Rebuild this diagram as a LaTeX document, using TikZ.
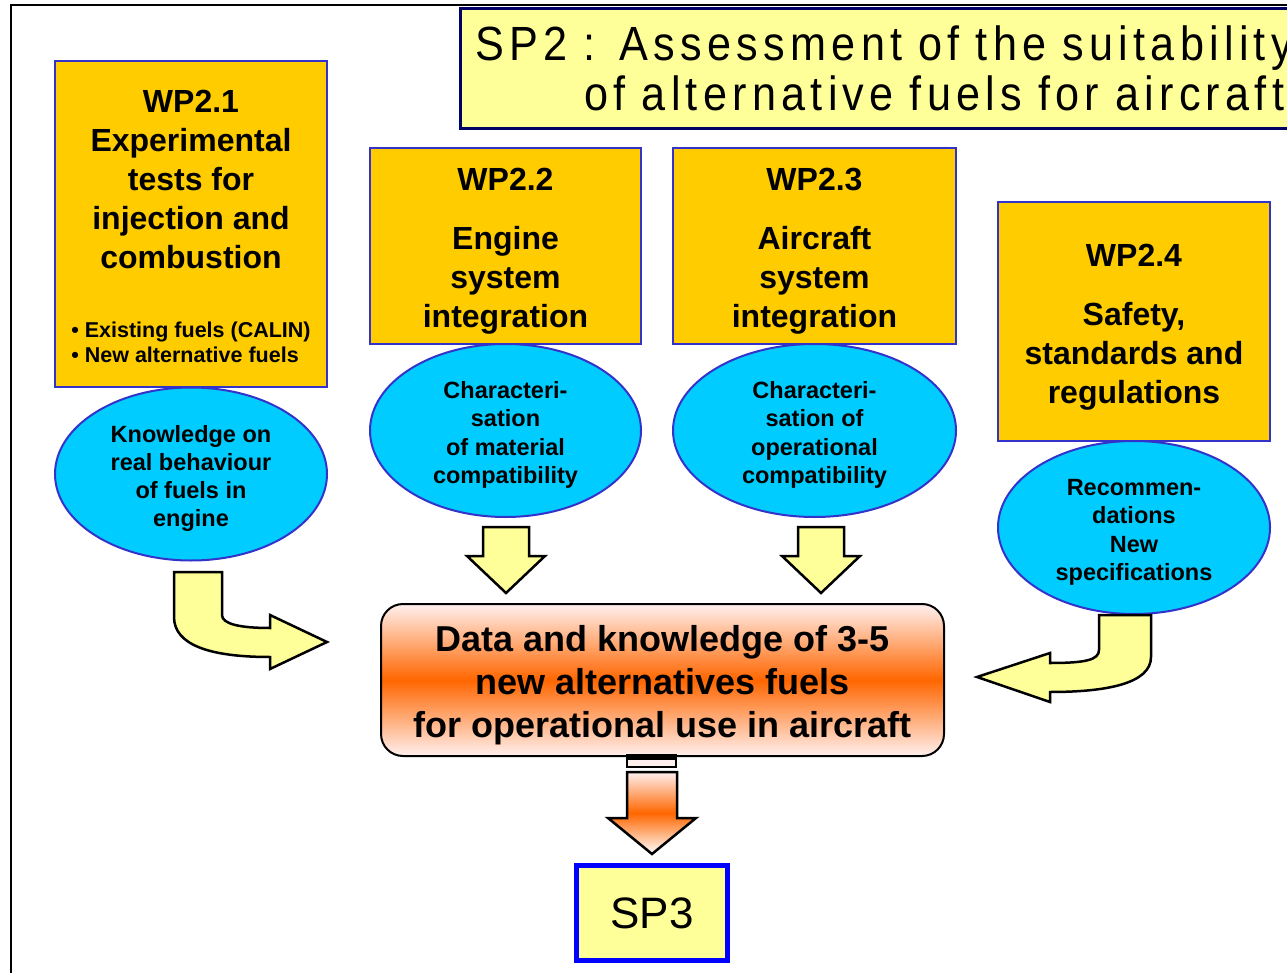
\documentclass[tikz,border=0pt]{standalone}
\usepackage{fontspec}
\setmainfont{Liberation Sans}
\newfontfamily\titlefont[FakeStretch=0.9,LetterSpace=11]{Liberation Sans} % SP2 heading.
\newcommand{\topstrut}[1]{\rule{0pt}{#1}} % Pushes a text block down a little.
\usetikzlibrary{shapes.geometric}
\definecolor{wpgold}{HTML}{FFCC00}
\definecolor{wpblue}{HTML}{3333CC}
\definecolor{resblue}{HTML}{00CCFF}
\definecolor{paleyellow}{HTML}{FFFF99}
\definecolor{titlenavy}{HTML}{000066}
\definecolor{dataorange}{HTML}{FF6600}
\definecolor{datapink}{HTML}{FFF0EE}
\definecolor{spblue}{HTML}{0000FF}

\begin{document}
\begin{tikzpicture}[x=1pt, y=-1pt,
  wpbox/.style={draw=wpblue, line width=2, fill=wpgold, align=center, inner sep=0,
    font=\bfseries\fontsize{32}{39}\selectfont},
  resnode/.style={ellipse, draw=wpblue, line width=2, fill=resblue, align=center,
    inner sep=0, minimum height=173, font=\bfseries\fontsize{23.5}{28.3}\selectfont},
  blockarr/.style={draw=black, line width=2.5, fill=paleyellow}]
\useasboundingbox (0,0) rectangle (1287,973);
\clip (0,0) rectangle (1287,973);
\draw[line width=2] (11,990) |- (1300,5);

\node[draw=titlenavy, line width=3, fill=paleyellow, anchor=north west, minimum height=120,
  inner xsep=15, text width=880, align=left, font=\titlefont\fontsize{48}{50}\selectfont]
  (title) at (459,7)
  {SP2 : Assessment of the suitability\\\hspace*{109pt}of alternative fuels for aircraft};

% work packages
\node[wpbox, minimum width=272, minimum height=326] (wp21) at (191,224)
  {\topstrut{34pt}WP2.1\\Experimental\\tests for\\injection and\\combustion\\[30pt]
   {\fontsize{21.5}{25}\selectfont\begin{tabular}[t]{@{}l@{}}• Existing fuels (CALIN)\\• New alternative fuels\end{tabular}}};
\node[wpbox, minimum width=271, minimum height=196] (wp22) at (505.5,246)
  {\topstrut{33pt}WP2.2\\[20pt]Engine\\system\\integration};
\node[wpbox, minimum width=283, minimum height=196] (wp23) at (814.5,246)
  {\topstrut{33pt}WP2.3\\[20pt]Aircraft\\system\\integration};
\node[wpbox, minimum width=272, minimum height=239] (wp24) at (1134,321.5)
  {\topstrut{33pt}WP2.4\\[20pt]Safety,\\standards and\\regulations};

% results
\node[resnode, minimum width=272] (res21) at (191,474)
  {\topstrut{26pt}Knowledge on\\real behaviour\\of fuels in\\engine};
\node[resnode, minimum width=271] (res22) at (505.5,430.5)
  {\topstrut{26pt}Characteri-\\sation\\of material\\compatibility};
\node[resnode, minimum width=283] (res23) at (814.5,430.5)
  {\topstrut{26pt}Characteri-\\sation of\\operational\\compatibility};
\node[resnode, minimum width=272] (res24) at (1134,527.5)
  {\topstrut{26pt}Recommen-\\dations\\New\\specifications};

\node[draw, line width=2, rounded corners=22, minimum width=563, minimum height=152,
  top color=datapink, bottom color=datapink, middle color=dataorange, align=center,
  font=\bfseries\fontsize{36}{43}\selectfont] (data) at (662.5,680)
  {\topstrut{36pt}Data and knowledge of 3-5\\new alternatives fuels\\for operational use in aircraft};

\node[draw=spblue, line width=5, fill=paleyellow, minimum width=151, minimum height=95,
  font=\fontsize{44}{50}\selectfont] (sp3) at (652,913) {SP3};

% arrows
\draw[blockarr] (483,527) -- (529,527) -- (529,556) -- (545,556) -- (506,593)
  -- (467,556) -- (483,556) -- cycle;
\draw[blockarr] (798,527) -- (844,527) -- (844,556) -- (860,556) -- (821,593)
  -- (782,556) -- (798,556) -- cycle;
\draw[blockarr] (174,572) -- (222,572) -- (222,615) .. controls (222,624) and (240,628) .. (270,628)
  -- (270,615) -- (327,642) -- (270,669) -- (270,657)
  .. controls (210,657) and (174,645) .. (174,617) -- cycle;
\draw[blockarr] (1099,615) -- (1151,615) -- (1151,657) .. controls (1151,684) and (1105,692) .. (1050,692)
  -- (1050,702) -- (977,677) -- (1050,653) -- (1050,663)
  .. controls (1085,663) and (1099,660) .. (1099,650) -- cycle;
\fill (626,754) rectangle (677,759);
\draw[line width=1.5, fill=datapink] (627,759) rectangle (676,767);
\draw[line width=2.5, top color=datapink, bottom color=white, middle color=dataorange]
  (627,772) -- (677,772) -- (677,818) -- (696,818) -- (652,854) -- (608,818) -- (627,818) -- cycle;
\end{tikzpicture}
\end{document}
